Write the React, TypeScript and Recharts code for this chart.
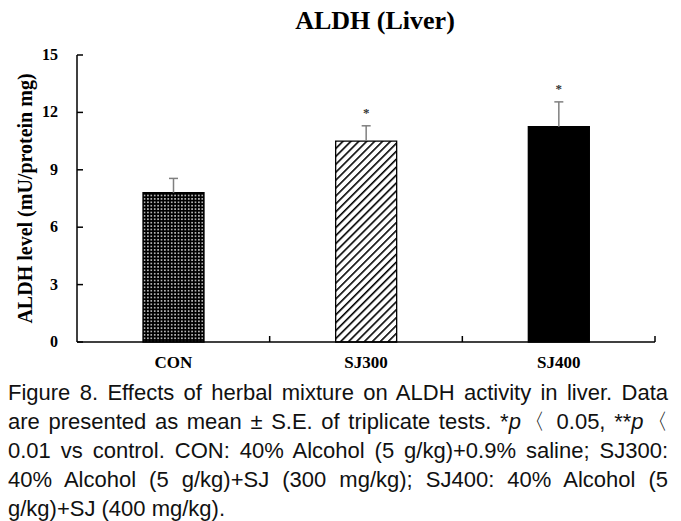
import React from 'react';
import { BarChart, Bar, XAxis, YAxis, Cell, LabelList } from 'recharts';

const categories = ['CON', 'SJ300', 'SJ400'];
const means = [7.8, 10.5, 11.25];
const errors = [0.75, 0.8, 1.3];
const marks = ['', '*', '*'];
const yTicks = [0, 3, 6, 9, 12, 15];
const fills = ['url(#dots)', 'url(#hatch)', '#000'];

const captionLines = [
	'Figure 8. Effects of herbal mixture on ALDH activity in liver. Data',
	'are presented as mean \u00b1 S.E. of triplicate tests. *p\u3008 0.05, **p\u3008',
	'0.01 vs control. CON: 40% Alcohol (5 g/kg)+0.9% saline; SJ300:',
	'40% Alcohol (5 g/kg)+SJ (300 mg/kg); SJ400: 40% Alcohol (5',
	'g/kg)+SJ (400 mg/kg).',
];

const data = categories.map((name, i) => ({
	name,
	mean: means[i],
	err: errors[i],
	mark: marks[i],
}));

const serif = "'Liberation Serif', 'Times New Roman', serif";

// upper error bar (S.E.) + significance star, scaled from the bar itself
const renderErr = (props: any) => {
	const { x, y, width, height, index } = props;
	const perUnit = height / means[index];
	const cx = x + width / 2;
	const top = y - errors[index] * perUnit;
	return (
		<g>
			<line x1={cx} y1={y} x2={cx} y2={top} stroke="#7f7f7f" strokeWidth={1.5} />
			<line x1={cx - 4.5} y1={top} x2={cx + 4.5} y2={top} stroke="#7f7f7f" strokeWidth={1.5} />
			{marks[index] ? (
				<text x={cx} y={top - 9} textAnchor="middle" fontFamily={serif} fontSize={13} fontWeight="bold" fill="#333">
					{marks[index]}
				</text>
			) : null}
		</g>
	);
};

// y ticks point inward
const YTick = (props: any) => {
	const { x, y, payload } = props;
	return (
		<g>
			<line x1={x + 19} y1={y} x2={x + 25} y2={y} stroke="#000" strokeWidth={1.5} />
			<text x={x} y={y} dy={5} textAnchor="end" fontFamily={serif} fontWeight="bold" fontSize={16} fill="#000">
				{payload.value}
			</text>
		</g>
	);
};

// category label + boundary tick on the right edge of the band, pointing up
const XTick = (props: any) => {
	const { x, y, payload } = props;
	const edge = x + (payload.offset || 0);
	return (
		<g>
			<line x1={edge} y1={y} x2={edge} y2={y - 6} stroke="#000" strokeWidth={1.5} />
			<text x={x} y={y + 26} textAnchor="middle" fontFamily={serif} fontWeight="bold" fontSize={17} fill="#000">
				{payload.value}
			</text>
		</g>
	);
};

const YLabel = (props: any) => {
	const { viewBox } = props;
	const cx = viewBox.x + 15;
	const cy = viewBox.y + viewBox.height / 2;
	return (
		<text
			x={cx}
			y={cy}
			transform={`rotate(-90 ${cx} ${cy})`}
			textAnchor="middle"
			dominantBaseline="central"
			fontFamily={serif}
			fontWeight="bold"
			fontSize={20}
			fill="#000"
		>
			ALDH level (mU/protein mg)
		</text>
	);
};

// put italic p in caption
const renderLine = (line: string) => {
	const parts = line.split(/(\*\*p|\*p)/);
	return parts.map((p, i) =>
		p.startsWith('*') && p.endsWith('p') ? (
			<span key={i}>
				{p.slice(0, -1)}
				<i>p</i>
			</span>
		) : (
			<span key={i}>{p}</span>
		)
	);
};

export default function App() {
	return (
		<div style={{ position: 'absolute', left: 0, top: 0, width: 681, height: 521, background: '#fff' }}>
			<div
				style={{
					position: 'absolute',
					left: 175,
					top: 6,
					width: 400,
					textAlign: 'center',
					fontFamily: serif,
					fontWeight: 'bold',
					fontSize: 26,
					lineHeight: '30px',
				}}
			>
				ALDH (Liver)
			</div>
			<BarChart width={681} height={375} data={data} margin={{ top: 55, right: 26, left: 10, bottom: 0 }}>
				<defs>
					<pattern id="dots" patternUnits="userSpaceOnUse" width={3.4} height={3.4}>
						<rect width={3.4} height={3.4} fill="#000" />
						<circle cx={1.7} cy={1.7} r={0.8} fill="#fff" />
					</pattern>
					<pattern id="hatch" patternUnits="userSpaceOnUse" width={5.6} height={5.6} patternTransform="rotate(45)">
						<rect width={5.6} height={5.6} fill="#fff" />
						<line x1={0} y1={0} x2={0} y2={5.6} stroke="#000" strokeWidth={3.2} />
					</pattern>
				</defs>
				<XAxis
					dataKey="name"
					height={33}
					interval={0}
					axisLine={{ stroke: '#000', strokeWidth: 1.5 }}
					tickLine={false}
					tickSize={0}
					tickMargin={0}
					tick={<XTick />}
				/>
				<YAxis
					width={67}
					domain={[0, 15]}
					ticks={yTicks}
					interval={0}
					tickSize={0}
					tickMargin={19}
					axisLine={{ stroke: '#000', strokeWidth: 1.5 }}
					tickLine={false}
					tick={<YTick />}
					label={<YLabel />}
				/>
				<Bar dataKey="mean" barSize={61} stroke="#000" strokeWidth={1.3} isAnimationActive={false}>
					{data.map((d, i) => (
						<Cell key={d.name} fill={fills[i]} />
					))}
					<LabelList dataKey="err" content={renderErr} />
				</Bar>
			</BarChart>
			<div
				style={{
					position: 'absolute',
					left: 8,
					top: 378,
					width: 660,
					fontFamily: "'Liberation Sans', sans-serif",
					fontSize: 22,
					lineHeight: '29px',
					color: '#111',
				}}
			>
				{captionLines.map((line, i) => (
					<div
						key={i}
						style={{
							whiteSpace: 'nowrap',
							textAlign: 'justify',
							textAlignLast: i < captionLines.length - 1 ? 'justify' : 'left',
						}}
					>
						{renderLine(line)}
					</div>
				))}
			</div>
		</div>
	);
}
